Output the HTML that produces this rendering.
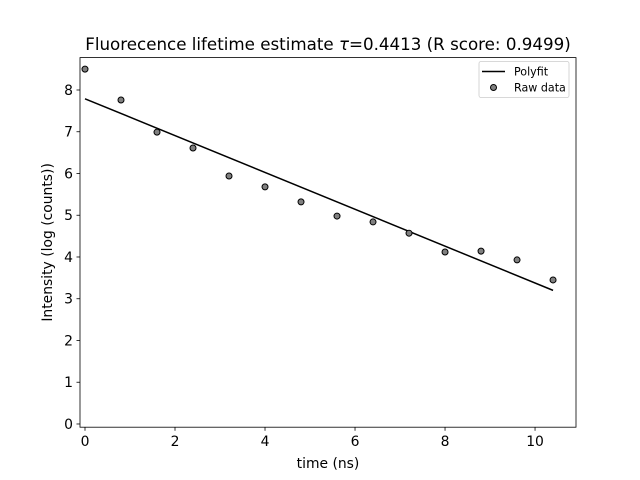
<!DOCTYPE html>
<html><head><meta charset="utf-8"><style>body{margin:0;background:#fff}svg{display:block;font-family:"DejaVu Sans","Liberation Sans",sans-serif}</style></head>
<body>
<svg id="c" width="640" height="480" xmlns="http://www.w3.org/2000/svg"></svg>
<script>
const xValues=[0,0.8,1.6,2.4,3.2,4.0,4.8,5.6,6.4,7.2,8.0,8.8,9.6,10.4];
const yValues=[8.50,7.76,6.99,6.61,5.94,5.68,5.32,4.98,4.84,4.57,4.12,4.14,3.93,3.45];
const fitSlope=-0.4413;
const fitIntercept=7.79;
const xTicks=[0,2,4,6,8,10];
const yTicks=[0,1,2,3,4,5,6,7,8];
const L=80,R=576,T=57.6,B=427.2;
const xmin=-0.111,xmax=10.91,ymin=-0.077,ymax=8.776;
const sx=v=>L+(v-xmin)/(xmax-xmin)*(R-L);
const sy=v=>B-(v-ymin)/(ymax-ymin)*(B-T);
const svg=document.getElementById('c');
const NS='http://www.w3.org/2000/svg';
function mk(t,a,p){const e=document.createElementNS(NS,t);for(const k in a)e.setAttribute(k,a[k]);(p||svg).appendChild(e);return e;}
let e;
e=mk('text',{x:328,y:50,'text-anchor':'middle','font-size':16.7});
e.innerHTML='Fluorecence lifetime estimate <tspan font-style="italic">\u03c4</tspan>=0.4413 (R score: 0.9499)';


xTicks.forEach(v=>{const x=sx(v);
e=mk('line',{x1:x,x2:x,y1:B,y2:B+3.5,stroke:'#000','stroke-width':0.8});


e=mk('text',{x:x,y:B+19,'text-anchor':'middle','font-size':13.9});e.textContent=v;

});
yTicks.forEach(v=>{const y=sy(v);
e=mk('line',{x1:L-3.5,x2:L,y1:y,y2:y,stroke:'#000','stroke-width':0.8});


e=mk('text',{x:L-7,y:y+5,'text-anchor':'end','font-size':13.9});e.textContent=v;

});
e=mk('text',{x:328,y:468,'text-anchor':'middle','font-size':13.9});e.textContent='time (ns)';


e=mk('text',{x:0,y:0,'text-anchor':'middle','font-size':13.9,transform:`translate(52,${(T+B)/2}) rotate(-90)`});e.textContent='Intensity (log (counts))';


const x0=xValues[0],x1=xValues[xValues.length-1];
e=mk('line',{x1:sx(x0),y1:sy(fitIntercept+fitSlope*x0),x2:sx(x1),y2:sy(fitIntercept+fitSlope*x1),stroke:'#000','stroke-width':1.5});


xValues.forEach((x,i)=>{e=mk('circle',{cx:sx(x),cy:sy(yValues[i]),r:3,fill:'#808080',stroke:'#000','stroke-width':1});

});
e=mk('rect',{x:L,y:T,width:R-L,height:B-T,fill:'none',stroke:'#000','stroke-width':0.8});


const g=mk('g',{});


mk('rect',{x:479,y:61.5,width:90,height:36,rx:2,fill:'#fff',stroke:'#ccc','stroke-width':0.8},g);
mk('line',{x1:482,x2:505,y1:71.5,y2:71.5,stroke:'#000','stroke-width':1.5},g);
e=mk('text',{x:514,y:75.5,'font-size':11.1},g);e.textContent='Polyfit';
mk('circle',{cx:493.5,cy:87.5,r:3,fill:'#808080',stroke:'#000','stroke-width':1},g);
e=mk('text',{x:514,y:91.5,'font-size':11.1},g);e.textContent='Raw data';
</script>
</body></html>
